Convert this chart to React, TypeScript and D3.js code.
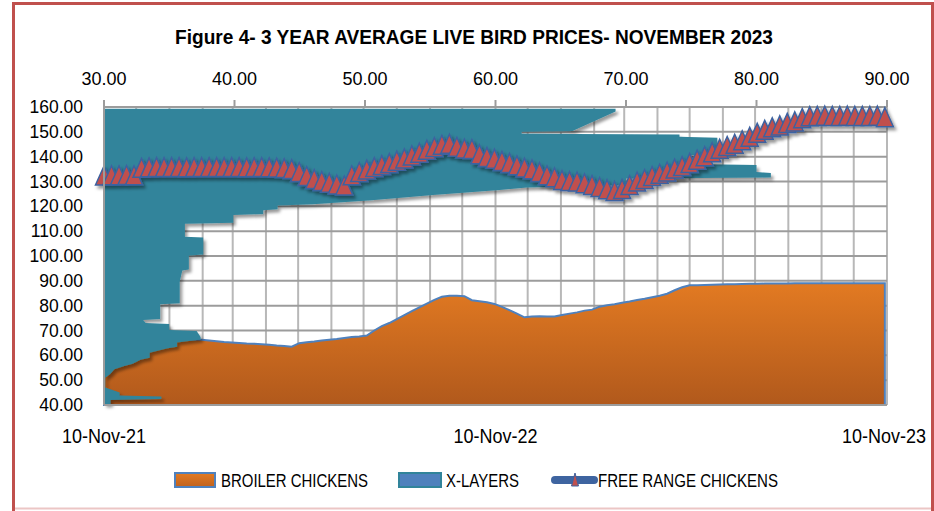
import React from "react";
import * as d3 from "d3";

// chart text
const chartTitle = "Figure 4- 3 YEAR AVERAGE LIVE BIRD PRICES- NOVEMBER 2023";
const seriesNames = ["BROILER CHICKENS", "X-LAYERS", "FREE RANGE CHICKENS"];

// axes
const priceTicks = [40, 50, 60, 70, 80, 90, 100, 110, 120, 130, 140, 150, 160];
const topTicks = [30, 40, 50, 60, 70, 80, 90];
const dateTicks = ["2021-11-10", "2022-11-10", "2023-11-10"];
const firstWeek = "2021-11-10";

// weekly prices
const broiler = [
  60, 61, 62, 63, 64, 64.5, 65, 65.5, 66, 66.2, 66.4, 66.4, 66.4,
  66.3, 66.0, 65.7, 65.4, 65.2, 65.0, 64.8, 64.7, 64.5, 64.3, 64.0, 63.8, 63.5,
  64.9, 65.3, 65.6, 66.0, 66.3, 66.6, 67.0, 67.4, 67.6, 68.0,
  70.0, 71.8, 73.0, 74.6, 76.2, 77.8, 79.3, 80.8, 82.3, 83.6, 84.0, 84.0, 83.8,
  82.2, 81.8, 81.4, 80.7, 79.5, 78.2, 76.8, 75.3, 75.6, 75.7, 75.6, 75.6,
  76.2, 76.8, 77.3, 78.0, 78.4, 79.6, 80.2, 80.6, 81.2, 81.7, 82.3, 82.8, 83.4, 84.0, 84.8, 86.2, 87.4, 88.2,
  88.2, 88.3, 88.4, 88.5, 88.6, 88.6, 88.7, 88.8, 88.8, 88.9, 88.9, 88.9, 88.9,
  89.0, 89.0, 89.0, 89.0, 89.0, 89.0, 89.0, 89.0, 89.0, 89.0, 89.0, 89.0, 89.0,
];

const freeRange = [
  132.4, 132.5, 132.5, 132.6, 132.5,
  135.5, 135.7, 135.8, 135.8, 135.8, 135.8, 135.7, 135.8, 135.8, 135.8, 135.8,
  135.8, 135.8, 135.8, 135.7, 135.8, 135.8, 135.7, 135.6, 135.4, 135.0,
  133.8, 132.2, 131.0, 130.2, 129.5, 128.8, 128.4,
  132.5, 133.8, 134.8, 135.8, 136.6, 137.4, 138.4, 139.3, 140.5, 141.6, 142.8, 143.9, 144.8, 145.2,
  144.0, 143.3, 143.1, 141.0, 139.9, 139.2, 138.3, 137.5, 136.5, 135.6, 134.9,
  133.8, 132.5, 131.7, 130.6, 130.2, 130.0, 129.3, 128.6, 127.8, 126.9, 126.2,
  127.0, 128.6, 130.0, 131.0, 132.2, 133.1, 134.0, 135.2, 136.2, 137.5, 138.8, 140.2, 141.8,
  143.2, 144.3, 145.2, 146.6, 148.0, 149.6, 150.8, 151.8, 152.6, 153.6, 154.2, 155.5, 156.3,
  156.4, 156.5, 156.4, 156.4, 156.5, 156.4, 156.4, 156.4, 156.5, 155.9,
];

// x-layers is drawn sideways: price level -> reach on the top axis
const layerPrice = [
  159.3, 158.2, 150.3, 150.0, 149.2, 148.9, 148.0, 147.6, 141.0, 140.6, 137.0, 136.6,
  133.8, 133.4, 131.6, 131.2, 128.5, 128.0, 127.6, 126.6, 124.6, 122.5, 120.8, 120.3,
  118.8, 118.4, 116.9, 116.5, 113.4, 113.0, 107.8, 107.4, 100.6, 100.2, 94.6, 94.2,
  89.6, 81.0, 80.6, 74.6, 74.2, 73.0, 72.6, 70.2, 69.8, 67.4, 66.4, 65.2, 63.5, 62.8,
  61.0, 59.0, 58.2, 56.6, 55.6, 54.4, 52.6, 51.0, 47.0, 45.0, 43.8, 43.4, 42.4, 42.0, 40.2,
];
const layerReach = [
  69.2, 69.2, 65.9, 62.0, 62.0, 74.1, 74.1, 77.0, 77.0, 75.0, 75.0, 80.0,
  80.0, 81.1, 81.1, 70.0, 70.0, 65.5, 62.4, 60.3, 55.2, 50.5, 46.0, 43.3,
  43.3, 42.2, 42.2, 39.9, 39.9, 36.2, 36.2, 37.6, 37.6, 36.5, 36.5, 36.0,
  35.8, 35.8, 34.3, 34.3, 33.0, 33.2, 35.0, 35.0, 37.1, 37.4, 37.4, 35.6, 35.6, 34.8,
  33.5, 33.5, 32.8, 32.2, 31.5, 30.8, 30.5, 30.1, 30.1, 31.2, 31.2, 34.4, 34.4, 30.5, 30.5,
];

const W = 934;
const H = 511;
const left = 104;
const right = 887;
const top = 107;
const bottom = 405;

const narrow = "'Liberation Sans Narrow', 'Arial Narrow', 'Liberation Sans', sans-serif";
const regular = "'Liberation Sans', Arial, sans-serif";

const tri = "M0,-9.5L8.5,9.5L-8.5,9.5Z";

export default function App() {
  const parse = d3.timeParse("%Y-%m-%d");
  const start = parse(firstWeek) as Date;
  const end = parse(dateTicks[2]) as Date;

  const x = d3.scaleTime().domain([start, end]).range([left, right]);
  const xTop = d3.scaleLinear().domain([30, 90]).range([left, right]);
  const y = d3.scaleLinear().domain([40, 160]).range([bottom, top]);

  const weeks = broiler.map((_, i) => d3.timeDay.offset(start, i * 7));
  const months = d3.range(25).map((k) => d3.timeMonth.offset(start, k));

  const broilerArea = d3
    .area<number>()
    .x((_, i) => x(weeks[i]))
    .y0(y(40))
    .y1((d) => y(d))(broiler);

  const layers = d3.zip(layerPrice, layerReach) as [number, number][];
  const layerArea = d3
    .area<[number, number]>()
    .y((d) => y(d[0]))
    .x0(xTop(30))
    .x1((d) => xTop(d[1]))(layers);

  const freeLine = d3
    .line<number>()
    .x((_, i) => x(weeks[i]))
    .y((d) => y(d))(freeRange);

  const fmt = d3.format(".2f");
  const fmtDate = d3.timeFormat("%-d-%b-%y");

  return (
    <svg width={W} height={H} style={{ position: "absolute", left: 0, top: 0, background: "#fff" }}>
      <defs>
        <linearGradient id="orange" x1="0" y1="0" x2="0" y2="1">
          <stop offset="0" stopColor="#e27a22" />
          <stop offset="1" stopColor="#b1591c" />
        </linearGradient>
        <linearGradient id="orangeKey" x1="0" y1="0" x2="0" y2="1">
          <stop offset="0" stopColor="#e27a22" />
          <stop offset="1" stopColor="#c0621e" />
        </linearGradient>
        <filter id="shadow" x="-5%" y="-5%" width="115%" height="120%">
          <feDropShadow dx="2.5" dy="3" stdDeviation="1.8" floodColor="#000" floodOpacity="0.4" />
        </filter>
      </defs>

      {/* frame */}
      <line x1={13.5} y1={2} x2={13.5} y2={511} stroke="#c0504d" strokeWidth={3} />
      <line x1={12} y1={3.5} x2={934} y2={3.5} stroke="#c0504d" strokeWidth={3} />
      <line x1={932.5} y1={2} x2={932.5} y2={511} stroke="#c0504d" strokeWidth={3} />
      <line x1={15} y1={508.5} x2={931} y2={508.5} stroke="#ecc6c5" strokeWidth={2} />

      <text x={474} y={44} textAnchor="middle" fontFamily={narrow} fontWeight="bold" fontSize={21}
        textLength={598} lengthAdjust="spacingAndGlyphs" fill="#000">{chartTitle}</text>

      {/* grid */}
      {months.map((m, i) => (
        <line key={"v" + i} x1={x(m)} x2={x(m)} y1={top} y2={bottom} stroke="#b8b8b8" strokeWidth={2} />
      ))}
      {priceTicks.map((p) => (
        <line key={"h" + p} x1={left} x2={right} y1={y(p)} y2={y(p)} stroke="#9c9c9c" strokeWidth={2} />
      ))}

      {/* top axis */}
      <line x1={left} x2={right} y1={top} y2={top} stroke="#9c9c9c" strokeWidth={2} />
      {topTicks.map((t) => (
        <g key={"t" + t}>
          <line x1={xTop(t)} x2={xTop(t)} y1={top} y2={top - 7} stroke="#9c9c9c" strokeWidth={2} />
          <text x={xTop(t)} y={85} textAnchor="middle" fontFamily={regular} fontSize={18} fill="#000">{fmt(t)}</text>
        </g>
      ))}

      {priceTicks.map((p) => (
        <text key={"y" + p} x={83} y={y(p) + 6} textAnchor="end" fontFamily={regular} fontSize={17.5} fill="#000">{fmt(p)}</text>
      ))}

      {dateTicks.map((d, i) => {
        const dt = parse(d) as Date;
        return (
          <text key={d} x={x(dt) - (i === 2 ? 3 : 0)} y={443} textAnchor="middle" fontFamily={narrow} fontSize={20}
            textLength={84} lengthAdjust="spacingAndGlyphs" fill="#000">{fmtDate(dt)}</text>
        );
      })}

      {/* series */}
      <path d={broilerArea || ""} fill="url(#orange)" stroke="#4f81bd" strokeWidth={2} />
      <path d={layerArea || ""} fill="#31849b" filter="url(#shadow)" />
      <g filter="url(#shadow)">
        <path d={freeLine || ""} fill="none" stroke="#2f5383" strokeWidth={3} />
        {freeRange.map((v, i) => (
          <path key={"m" + i} d={tri} transform={`translate(${x(weeks[i])},${y(v)})`}
            fill="#c0504d" stroke="#3d62a0" strokeWidth={1.5} />
        ))}
      </g>

      <line x1={left} x2={left} y1={top} y2={bottom} stroke="#9c9c9c" strokeWidth={2} />
      <line x1={left} x2={right} y1={bottom} y2={bottom} stroke="#9c9c9c" strokeWidth={2} />

      {/* legend */}
      <rect x={175} y={473} width={40} height={14} fill="url(#orangeKey)" stroke="#4f81bd" strokeWidth={2} />
      <text x={221} y={487} fontFamily={narrow} fontSize={19} textLength={147} lengthAdjust="spacingAndGlyphs" fill="#000">{seriesNames[0]}</text>
      <rect x={399} y={473} width={42} height={14} fill="#4f81bd" stroke="#31849b" strokeWidth={2} />
      <text x={446} y={487} fontFamily={narrow} fontSize={19} textLength={73} lengthAdjust="spacingAndGlyphs" fill="#000">{seriesNames[1]}</text>
      <line x1={555} x2={594} y1={480} y2={480} stroke="#3e64a0" strokeWidth={8} strokeLinecap="round" />
      <path d="M0,-7L3.5,6L-3.5,6Z" transform="translate(575,480)" fill="#c0504d" stroke="#3d62a0" strokeWidth={1} />
      <text x={598} y={487} fontFamily={narrow} fontSize={19} textLength={180} lengthAdjust="spacingAndGlyphs" fill="#000">{seriesNames[2]}</text>
    </svg>
  );
}
